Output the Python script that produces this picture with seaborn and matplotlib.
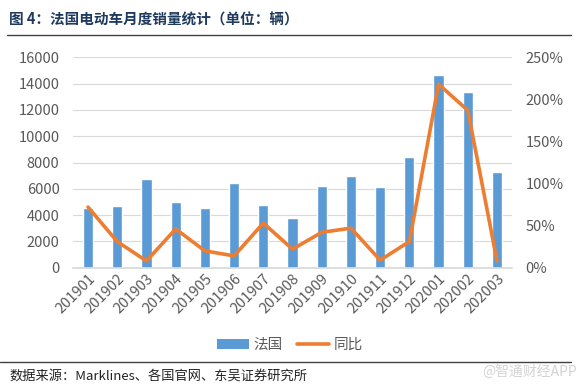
import matplotlib
matplotlib.use("Agg")
import matplotlib.pyplot as plt
import seaborn as sns
import pandas as pd
from matplotlib.lines import Line2D
from matplotlib.patches import Patch
from matplotlib.ticker import FuncFormatter

months = ["201901", "201902", "201903", "201904", "201905", "201906", "201907",
          "201908", "201909", "201910", "201911", "201912", "202001", "202002", "202003"]
sales = [4560, 4670, 6750, 5000, 4520, 6420, 4750, 3780, 6210, 7000, 6140, 8420, 14680, 13340, 7280]
yoy = [72, 31, 8, 46, 20, 14, 53, 22, 42, 47, 9, 31, 218, 187, 8]

left_ticks = [0, 2000, 4000, 6000, 8000, 10000, 12000, 14000, 16000]
right_ticks = [0, 50, 100, 150, 200, 250]

sns.set_theme(style="white")
plt.rcParams['font.family'] = ['Noto Sans CJK SC', 'DejaVu Sans']

df = pd.DataFrame({"month": months, "sales": sales, "yoy": yoy})

fig = plt.figure(figsize=(5.8, 3.86), dpi=100)
ax = fig.add_axes([0.1266, 0.3065, 0.7555, 0.545])

bar_color = "#5B9BD5"
line_color = "#ED7D31"
tick_color = "#595959"

sns.barplot(data=df, x="month", y="sales", color=bar_color, width=0.35,
            saturation=1, ax=ax)
ax.set_ylim(0, 16000)
ax.set_yticks(left_ticks)
ax.set_xlim(-0.5, len(months) - 0.5)
ax.yaxis.grid(True, color="#D9D9D9", linewidth=0.8)
ax.set_axisbelow(True)
for s in ax.spines.values():
    s.set_visible(False)
ax.spines["bottom"].set_visible(True)
ax.spines["bottom"].set_color("#D9D9D9")
ax.set_xlabel("")
ax.set_ylabel("")
ax.tick_params(axis="y", length=0, labelsize=10.5, colors=tick_color, pad=10)
ax.tick_params(axis="x", length=0, labelsize=10.5, colors=tick_color, pad=3)
for lbl in ax.get_xticklabels():
    lbl.set_rotation(45)
    lbl.set_ha("right")
    lbl.set_rotation_mode("anchor")

ax2 = ax.twinx()
sns.lineplot(x=list(range(len(months))), y=yoy, color=line_color, linewidth=2.6,
             ax=ax2, sort=False)
ax2.set_ylim(0, 250)
ax2.set_yticks(right_ticks)
ax2.yaxis.set_major_formatter(FuncFormatter(lambda v, p: f"{int(v)}%"))
ax2.tick_params(axis="y", length=0, labelsize=10.5, colors=tick_color, pad=10)
for s in ax2.spines.values():
    s.set_visible(False)
ax2.set_ylabel("")
ax2.grid(False)

handles = [Patch(facecolor=bar_color, edgecolor="none"),
           Line2D([0], [0], color=line_color, linewidth=2.6)]
fig.legend(handles, ["法国", "同比"], loc="center", bbox_to_anchor=(0.5, 1 - 345 / 386),
           ncol=2, frameon=False, fontsize=10.5, handlelength=2.2, columnspacing=1.0,
           handletextpad=0.3, labelcolor=tick_color)

fig.text(0.016, 1 - 20 / 386, "图 4：法国电动车月度销量统计（单位：辆）", fontsize=10.5,
         fontweight="bold", color="#1F3A5F", va="center", ha="left")
fig.add_artist(Line2D([0.012, 0.985], [1 - 35 / 386, 1 - 35 / 386], color="#404040",
                      linewidth=1.0, transform=fig.transFigure))
fig.add_artist(Line2D([0.0, 0.985], [1 - 362 / 386, 1 - 362 / 386], color="#404040",
                      linewidth=1.0, transform=fig.transFigure))
fig.text(0.016, 1 - 376 / 386, "数据来源：Marklines、各国官网、东吴证券研究所", fontsize=9.5,
         color="#222222", va="center", ha="left")
fig.text(0.995, 1 - 372 / 386, "@智通财经APP", fontsize=10, color="#C8C8C8",
         va="center", ha="right", alpha=0.8)

fig.savefig("out.png", dpi=100)
